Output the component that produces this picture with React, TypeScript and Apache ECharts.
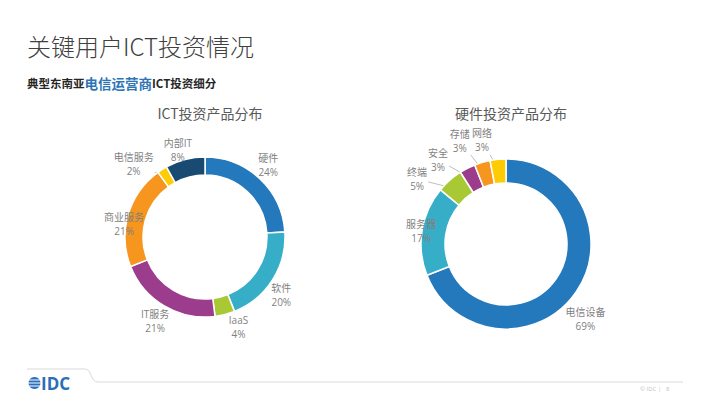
import React, { useEffect, useRef } from "react";
import * as echarts from "echarts";

// ---- data ----
const ictCategories = ["硬件", "软件", "IaaS", "IT服务", "商业服务", "电信服务", "内部IT"];
const ictValues = [24, 20, 4, 21, 21, 2, 8];
const hwCategories = ["电信设备", "服务器", "终端", "安全", "存储", "网络"];
const hwValues = [69, 17, 5, 3, 3, 3];

// ---- style ----
const ictColors = ["#2479BD", "#37AEC7", "#A9C934", "#9C3C8C", "#F6961E", "#FFCB05", "#194A72"];
const hwColors = ["#2479BD", "#37AEC7", "#A9C934", "#9C3C8C", "#F6961E", "#FFCB05"];

const ictLabelAngleNudge = [-2, 5, -6, 0, -7, -12, -3];
const ictLabelRadius = [96, 96, 96, 98, 82, 102, 91];
const ictLabelLine = [true, false, false, false, false, true, false];

const hwLabelAngleNudge = [9, 0, -12.5, -12, -8, -7.6];
const hwLabelRadius = [109, 86, 110, 108, 113, 107];
const hwLabelLine = [false, false, true, true, true, true];

const LEFT = { cx: 205, cy: 237, r0: 62, r: 80 };
const RIGHT = { cx: 506, cy: 244, r0: 61, r: 85 };

const FONT = "'Open Sans', 'Noto Sans CJK SC', sans-serif";
const CJK = "'Noto Sans CJK SC', 'Open Sans', sans-serif";

function makeLabelLayout(values: number[], geo: any, nudge: number[], radius: number[]) {
  const total = values.reduce((a, b) => a + b, 0);
  const mids: number[] = [];
  let acc = 0;
  values.forEach((v) => {
    mids.push(((acc + v / 2) / total) * 360);
    acc += v;
  });
  return (params: any) => {
    const i = params.dataIndex;
    const a = ((mids[i] + nudge[i]) * Math.PI) / 180;
    const R = radius[i];
    const x = geo.cx + R * Math.sin(a);
    const y = geo.cy - R * Math.cos(a);
    const am = (mids[i] * Math.PI) / 180;
    const rm = (geo.r0 + geo.r) / 2;
    const ex = geo.cx + rm * Math.sin(am);
    const ey = geo.cy - rm * Math.cos(am);
    const w = params.labelRect.width / 2 + 1;
    const h = params.labelRect.height / 2 + 1;
    const dx = ex - x;
    const dy = ey - y;
    const t = Math.min(dx ? w / Math.abs(dx) : Infinity, dy ? h / Math.abs(dy) : Infinity);
    const sx = x + dx * t;
    const sy = y + dy * t;
    return {
      x,
      y,
      align: "center",
      verticalAlign: "middle",
      labelLinePoints: [
        [sx, sy],
        [ex, ey],
      ],
    };
  };
}

function pieSeries(cats: string[], vals: number[], colors: string[], geo: any, nudge: number[], radius: number[], lines: boolean[]) {
  return {
    type: "pie",
    center: [geo.cx, geo.cy],
    radius: [geo.r0, geo.r],
    startAngle: 90,
    clockwise: true,
    avoidLabelOverlap: false,
    emphasis: { disabled: true },
    itemStyle: { borderColor: "#ffffff", borderWidth: 1.5 },
    label: {
      show: true,
      position: "outside",
      formatter: "{b}\n{c}%",
      color: "#7f7f7f",
      fontSize: 10,
      lineHeight: 14,
      fontFamily: FONT,
    },
    labelLine: { show: true, length: 5, length2: 5, lineStyle: { color: "#b0b0b0", width: 0.8 } },
    labelLayout: makeLabelLayout(vals, geo, nudge, radius),
    data: cats.map((n, i) => ({
      name: n,
      value: vals[i],
      itemStyle: { color: colors[i] },
      labelLine: { show: lines[i] },
    })),
  };
}

export default function App() {
  const ref = useRef<HTMLDivElement>(null);
  useEffect(() => {
    document.body.style.margin = "0";
    const chart = echarts.init(ref.current!, null, { renderer: "svg" });
    chart.setOption({
      animation: false,
      backgroundColor: "#ffffff",
      title: [
        {
          text: "ICT投资产品分布",
          left: LEFT.cx,
          top: 101,
          textAlign: "center",
          textStyle: { color: "#595959", fontSize: 14, fontWeight: "normal", fontFamily: CJK },
        },
        {
          text: "硬件投资产品分布",
          left: RIGHT.cx,
          top: 101,
          textAlign: "center",
          textStyle: { color: "#595959", fontSize: 14, fontWeight: "normal", fontFamily: CJK },
        },
      ],
      graphic: [
        {
          type: "text",
          x: 27,
          y: 45,
          style: {
            text: "关键用户ICT投资情况",
            fill: "#404040",
            fontSize: 24,
            fontFamily: CJK,
            fontWeight: 300,
            verticalAlign: "middle",
          },
        },
        {
          type: "text",
          x: 27,
          y: 83,
          style: {
            text: "{a|典型东南亚}{b|电信运营商}{a|ICT投资细分}",
            verticalAlign: "middle",
            rich: {
              a: { fill: "#262626", fontSize: 11.5, fontWeight: "bold", fontFamily: CJK },
              b: { fill: "#2E75B6", fontSize: 13.5, fontWeight: "bold", fontFamily: CJK },
            },
          },
        },
        {
          type: "polyline",
          shape: { points: [[27, 369], [85, 369]] },
          style: { stroke: "#d9d9d9", lineWidth: 1, fill: null },
        },
        {
          type: "bezierCurve",
          shape: { x1: 85, y1: 369, cpx1: 92, cpy1: 369, cpx2: 90, cpy2: 382, x2: 98, y2: 382 },
          style: { stroke: "#d9d9d9", lineWidth: 1, fill: null },
        },
        {
          type: "line",
          shape: { x1: 98, y1: 382, x2: 683, y2: 382 },
          style: { stroke: "#d9d9d9", lineWidth: 1 },
        },
        {
          type: "circle",
          shape: { cx: 34.5, cy: 383, r: 6 },
          style: { fill: "#2A6EBB" },
        },
        { type: "rect", shape: { x: 28, y: 379.5, width: 13, height: 1 }, style: { fill: "#ffffff" } },
        { type: "rect", shape: { x: 28, y: 382.5, width: 13, height: 1 }, style: { fill: "#ffffff" } },
        { type: "rect", shape: { x: 28, y: 385.5, width: 13, height: 1 }, style: { fill: "#ffffff" } },
        {
          type: "text",
          x: 41,
          y: 383.5,
          style: {
            text: "IDC",
            fill: "#2A6EBB",
            fontSize: 17,
            fontWeight: "bold",
            fontFamily: "'Open Sans', sans-serif",
            verticalAlign: "middle",
          },
        },
        {
          type: "text",
          x: 640,
          y: 389,
          style: {
            text: "© IDC |   8",
            fill: "#bfbfbf",
            fontSize: 6,
            fontFamily: FONT,
            verticalAlign: "middle",
          },
        },
      ],
      series: [
        pieSeries(ictCategories, ictValues, ictColors, LEFT, ictLabelAngleNudge, ictLabelRadius, ictLabelLine),
        pieSeries(hwCategories, hwValues, hwColors, RIGHT, hwLabelAngleNudge, hwLabelRadius, hwLabelLine),
      ],
    });
    return () => chart.dispose();
  }, []);
  return <div ref={ref} style={{ position: "fixed", left: 0, top: 0, width: 710, height: 399 }} />;
}
